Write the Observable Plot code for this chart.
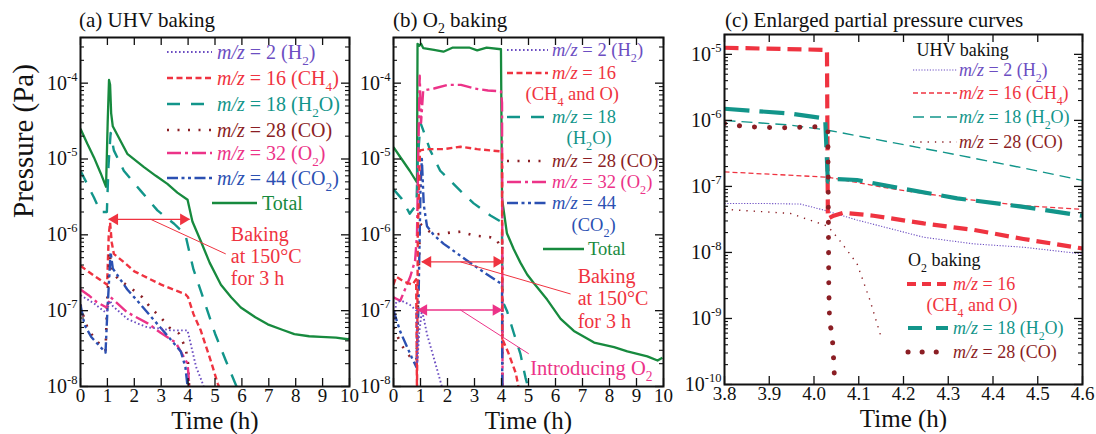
<!DOCTYPE html>
<html><head><meta charset="utf-8">
<script src="https://cdn.jsdelivr.net/npm/d3@7"></script>
<script src="https://cdn.jsdelivr.net/npm/@observablehq/plot@0.6"></script>
<style>
html,body{margin:0;padding:0;background:#fff;}
#wrap{position:relative;width:1096px;height:434px;overflow:hidden;background:#fff;}
#wrap > div{position:absolute;top:0;}
</style></head>
<body><div id="wrap"><div id="pa" style="left:0px"></div><div id="pb" style="left:360px"></div><div id="pc" style="left:680px"></div></div>
<script>
// ---------- Panel (a) UHV baking : [time h, pressure Pa] ----------
const aH2 = [[0,1.6e-7],[0.5,1.25e-7],[0.93,9.5e-8],[0.98,1.0e-7],[1.1,1.35e-7],[1.2,1.15e-7],[1.74,7.8e-8],[2.2,6.6e-8],[2.5,6.0e-8],[3.0,5.8e-8],[3.35,5.5e-8],[3.98,5.5e-8],[4.1,3.6e-8],[4.3,1.8e-8],[4.5,1.2e-8],[4.62,9e-9]];
const aCH4 = [[0,3.9e-7],[0.5,2.9e-7],[0.99,2.2e-7],[1.05,1.0e-6],[1.1,1.45e-6],[1.16,8e-7],[1.24,5.6e-7],[1.6,4.4e-7],[2.0,3.3e-7],[3.0,2.2e-7],[3.9,1.65e-7],[4.0,1.5e-7],[4.2,9e-8],[4.47,5.5e-8],[4.84,2.2e-8],[5.1,1.1e-8],[5.25,8e-9]];
const aH2O = [[0,7e-6],[0.5,3.1e-6],[0.75,2.0e-6],[0.98,2.0e-6],[1.04,8e-6],[1.12,2.2e-5],[1.24,1.3e-5],[1.61,7e-6],[2.24,3.8e-6],[2.86,2.1e-6],[3.48,1.4e-6],[3.9,1e-6],[4.0,7e-7],[4.2,3.5e-7],[4.5,1.7e-7],[5.0,5e-8],[5.4,2.2e-8],[5.8,1e-8],[6.0,7e-9]];
const aCO = [[0,1.2e-7],[0.15,7.5e-8],[0.3,5.5e-8],[0.6,4e-8],[0.93,3e-8],[1.0,1.5e-7],[1.08,6e-7],[1.15,3.5e-7],[1.4,2.6e-7],[1.86,2e-7],[2.3,1.5e-7],[2.6,1.1e-7],[3.0,8e-8],[3.3,6e-8],[3.66,5e-8],[3.91,3.2e-8],[4.0,2e-8],[4.05,8e-9]];
const aO2 = [[0,1.9e-7],[0.3,1.6e-7],[0.6,1.3e-7],[0.97,1.1e-7],[1.05,1.3e-7],[1.12,1.5e-7],[1.74,9.5e-8],[2.5,6.8e-8],[2.98,5.1e-8],[3.54,3.8e-8],[3.98,2e-8],[4.03,1.2e-8],[4.06,8e-9]];
const aCO2 = [[0,1.2e-7],[0.15,6.5e-8],[0.4,4.5e-8],[0.93,2.8e-8],[1.0,1e-7],[1.12,5.9e-7],[1.2,3.6e-7],[1.3,3.2e-7],[1.74,1.9e-7],[2.24,1.2e-7],[2.6,8.5e-8],[3.1,5.3e-8],[3.73,2.9e-8],[3.9,1.8e-8],[3.98,1e-8],[4.0,8e-9]];
const aTotal = [[0,2.5e-5],[0.25,1.6e-5],[0.5,1.05e-5],[0.75,6.5e-6],[0.95,4.3e-6],[1.01,3e-5],[1.06,1.1e-4],[1.1,9.5e-5],[1.14,4e-5],[1.2,2.7e-5],[1.74,1.17e-5],[2.36,7.8e-6],[2.8,6e-6],[3.23,4.7e-6],[3.6,3.6e-6],[3.98,2.9e-6],[4.16,1.5e-6],[4.47,8.3e-7],[4.8,4.3e-7],[5.22,2.2e-7],[5.6,1.5e-7],[5.96,1.1e-7],[6.5,8.2e-8],[6.96,6.6e-8],[7.5,5.6e-8],[7.95,4.9e-8],[8.5,4.6e-8],[8.94,4.5e-8],[9.5,4.4e-8],[9.94,4.2e-8],[10,4.3e-8]];

// ---------- Panel (b) O2 baking ----------
const bH2 = [[0,6e-8],[0.1,1.3e-7],[0.3,1.35e-7],[0.6,1.2e-7],[0.85,1e-7],[0.88,2e-8],[0.95,5e-8],[1.05,1e-7],[1.12,8e-8],[1.24,4.9e-8],[1.49,2.4e-8],[1.73,1.2e-8],[1.86,8e-9]];
const bCH4 = [[0,2.2e-7],[0.1,2.8e-7],[0.4,2.4e-7],[0.7,2.2e-7],[0.84,2.6e-7],[0.87,8e-9],[0.9,1e-6],[0.98,1.3e-5],[1.24,1.35e-5],[1.86,1.35e-5],[2.48,1.45e-5],[3.1,1.35e-5],[3.96,1.26e-5],[4.02,1.2e-5],[4.03,3.3e-8],[4.06,4e-8],[4.25,2.8e-8],[4.53,1.5e-8],[4.65,9e-9]];
const bH2O = [[0,4e-6],[0.3,3e-6],[0.6,1.9e-6],[0.85,2.5e-6],[0.9,1e-5],[1.0,3e-5],[1.1,2.4e-5],[1.36,1.3e-5],[1.73,7e-6],[2.48,3.8e-6],[2.97,2.6e-6],[3.59,1.8e-6],[3.96,1.5e-6],[4.02,1.1e-6],[4.03,1.2e-7],[4.1,1.2e-7],[4.2,1e-7],[4.46,5e-8],[4.7,2.7e-8],[4.89,1.3e-8],[5.05,8e-9]];
const bCO = [[0,6e-8],[0.3,3.5e-8],[0.6,2.5e-8],[0.85,2.2e-8],[0.9,1e-7],[0.98,1.4e-6],[1.2,1.2e-6],[1.49,1e-6],[2.1,1.07e-6],[2.48,1.1e-6],[2.97,9.8e-7],[3.59,9.3e-7],[3.8,9e-7],[3.9,7.6e-7],[4.0,8e-7],[4.03,7e-7],[4.035,7e-10]];
const bO2 = [[0,1.5e-7],[0.25,1.35e-7],[0.62,2.8e-7],[0.8,4.6e-7],[0.87,1e-6],[0.93,2e-5],[0.97,1.25e-4],[1.02,3e-5],[1.1,8e-5],[1.5,8.5e-5],[2.0,9.5e-5],[2.5,9.5e-5],[3.0,8.5e-5],[3.5,8e-5],[3.98,7.8e-5],[4.02,5.5e-5],[4.04,5e-9]];
const bCO2 = [[0,1e-7],[0.25,5.3e-8],[0.68,2.4e-8],[0.85,1.8e-8],[0.92,1e-7],[1.0,4e-6],[1.05,1e-5],[1.12,2.5e-6],[1.24,1.3e-6],[1.49,1e-6],[1.86,7.6e-7],[2.72,4.6e-7],[3.47,3e-7],[3.96,2.3e-7],[4.02,2.2e-7],[4.03,5e-9]];
const bTotal = [[0,1.43e-5],[0.3,1e-5],[0.6,7e-6],[0.87,4.9e-6],[0.89,3.3e-4],[0.95,3.1e-4],[1.02,3.3e-4],[1.1,2.9e-4],[1.5,2.75e-4],[1.85,2.6e-4],[2.2,2.95e-4],[2.8,2.95e-4],[3.1,2.7e-4],[3.45,2.95e-4],[3.98,2.8e-4],[4.02,3e-6],[4.2,1.05e-6],[4.45,6.5e-7],[4.7,4.3e-7],[4.95,3e-7],[5.2,2.3e-7],[5.69,1.4e-7],[6.19,7.8e-8],[6.68,5.4e-8],[7.43,3.8e-8],[8.17,3.3e-8],[8.66,2.9e-8],[9.4,2.5e-8],[9.78,2.2e-8],[9.96,2.4e-8]];

// ---------- Panel (c) Enlarged partial pressure curves ----------
const cUHV_H2 = [[3.8,5.5e-8],[3.9,5.5e-8],[3.97,5.4e-8],[4.021,4.4e-8],[4.096,3.1e-8],[4.17,2.3e-8],[4.245,1.7e-8],[4.356,1.35e-8],[4.468,1.2e-8],[4.6,9.5e-9]];
const cUHV_CH4 = [[3.8,1.66e-7],[4.031,1.38e-7],[4.17,9.3e-8],[4.32,6.6e-8],[4.468,5.1e-8],[4.6,4.5e-8]];
const cUHV_H2O = [[3.8,1e-6],[3.947,8.5e-7],[4.031,7.1e-7],[4.17,4.7e-7],[4.32,3e-7],[4.468,1.9e-7],[4.6,1.23e-7]];
const cUHV_CO = [[3.8,4.5e-8],[3.947,3.9e-8],[4.031,2.5e-8],[4.058,1.5e-8],[4.096,6.8e-9],[4.125,1.9e-9],[4.152,4.7e-10]];
const cO2_CH4 = [[3.8,1.26e-5],[4.029,1.17e-5],[4.031,3.26e-8],[4.044,3.6e-8],[4.066,4e-8],[4.133,3.6e-8],[4.245,2.75e-8],[4.356,2.2e-8],[4.468,1.6e-8],[4.6,1.15e-8]];
const cO2_H2O = [[3.8,1.5e-6],[3.947,1.27e-6],[4.025,1.07e-6],[4.031,1.18e-7],[4.044,1.3e-7],[4.096,1.25e-7],[4.17,1e-7],[4.32,6.6e-8],[4.468,4.9e-8],[4.6,3.6e-8]];
const cO2_CO = [[3.8,9e-7],[3.842,8.1e-7],[3.924,7.7e-7],[4.006,8e-7],[4.031,7.1e-7],[4.033,3e-9],[4.035,7.9e-10],[4.04,6.6e-10],[4.044,2.3e-10],[4.046,1.15e-10]];

// ---------- Ticks ----------
const abXTicks = [0,1,2,3,4,5,6,7,8,9,10];
const cXTicks = [3.8,3.9,4.0,4.1,4.2,4.3,4.4,4.5,4.6];
const abDecades = [1e-8,1e-7,1e-6,1e-5,1e-4];
const cDecades = [1e-10,1e-9,1e-8,1e-7,1e-6,1e-5];

// ---------- Annotations ----------
const aArrows = [{x1:1.05, x2:4.05, y:1.6e-6, c:"red"}];
const aPointers = [{x1:2.61, y1:1.6e-6, x2:5.4, y2:5.6e-7, c:"red"}];
const aNotes = [{x:5.59, y:5.3e-7, text:"Baking\nat 150°C\nfor 3 h", c:"red"}];
const bArrows = [{x1:1.05, x2:4.05, y:4.4e-7, c:"red"},{x1:0.9, x2:4.02, y:1.02e-7, c:"pink"}];
const bPointers = [{x1:2.48, y1:4.4e-7, x2:6.56, y2:1.66e-7, c:"red"},{x1:2.48, y1:1.02e-7, x2:5.01, y2:2.7e-8, c:"pink"}];
const bNotes = [{x:6.82, y:1.47e-7, text:"Baking\nat 150°C\nfor 3 h", c:"red"}];
const bRichNotes = [{x:5.08, y:1.74e-8, text:"Introducing O_{2}", c:"pink"}];

// ---------- Styles ----------
const COL = {purple:"#6c4ec2", red:"#ef3340", teal:"#12958a", dred:"#8b1e24", pink:"#ec3388", blue:"#2b50b2", green:"#178a3e"};
const ST = {
  H2:{c:COL.purple, d:"1.6,2.4", w:1.9},
  CH4:{c:COL.red, d:"6,3.5", w:2.4},
  H2O:{c:COL.teal, d:"13,11", w:2.4},
  CO:{c:COL.dred, d:"2,8.5", w:2.6},
  O2:{c:COL.pink, d:"14,4,3,4", w:2.4},
  CO2:{c:COL.blue, d:"11,3.5,3,3.5,3,3.5", w:2.4},
  Total:{c:COL.green, d:null, w:2.3},
  uH2:{c:COL.purple, d:"1.2,1.6", w:1.1},
  uCH4:{c:COL.red, d:"5,3", w:1.3},
  uH2O:{c:COL.teal, d:"11,6", w:1.4},
  uCO:{c:COL.dred, d:"1.3,6", w:1.4},
  oCH4:{c:COL.red, d:"14,7", w:4.2, ld:"9,6"},
  oH2O:{c:COL.teal, d:"25,10", w:4.2, ld:"14,14"},
  oCO:{c:COL.dred, d:"0.1,15", w:5, cap:"round", ld:"0.1,14"}
};
const FONT = "'Liberation Serif','Times New Roman',serif";
const H = 434;

function rows(arr){ return arr.map(([t,p]) => ({t, p})); }
function minorsFor(decades, top){
  const out = [];
  for (const d of decades) for (let k=2;k<=9;k++){ const v=d*k; if (v<=top*1.0001) out.push(v); }
  return out;
}
function rich(sel, x, y, str, size, color, anchor="start"){
  const t = sel.append("text").attr("x",x).attr("y",y+0.34*size).attr("font-size",size)
    .attr("fill",color).attr("text-anchor",anchor).attr("font-family",FONT);
  let off = 0;
  for (const part of str.split(/(\*[^*]+\*|_\{[^}]+\}|\^\{[^}]+\})/).filter(s=>s)){
    let txt = part, fs = size, target = 0, it = false;
    if (part.startsWith("*")) { txt = part.slice(1,-1); it = true; }
    else if (part.startsWith("_{")) { txt = part.slice(2,-1); fs = size*0.66; target = size*0.3; }
    else if (part.startsWith("^{")) { txt = part.slice(2,-1); fs = size*0.62; target = -size*0.45; }
    const ts = t.append("tspan").attr("font-size",fs).text(txt);
    if (target-off !== 0) ts.attr("dy", target-off);
    if (it) ts.attr("font-style","italic");
    off = target;
  }
  return t;
}
function legendLine(g, x1, x2, y, s){
  g.append("line").attr("x1",x1).attr("x2",x2).attr("y1",y).attr("y2",y)
    .attr("stroke",s.c).attr("stroke-width",s.w)
    .attr("stroke-dasharray", s.ld || s.d).attr("stroke-linecap", s.cap || "butt");
}

function makePanel(cfg){
  const {width, ml, mr, mt, mb, xDomain, yDomain, xTicks, xFmt, decades, series} = cfg;
  const pw = width-ml-mr, ph = H-mt-mb;
  const minors = minorsFor(decades, yDomain[1]);
  const marks = [];
  for (const s of series){
    marks.push(Plot.line(rows(s.data), {x:"t", y:"p", stroke:s.st.c, strokeWidth:s.st.w,
      strokeDasharray:s.st.d || undefined, strokeLinecap:s.st.cap || "butt", strokeLinejoin:"round", clip:true}));
  }
  // inward ticks
  marks.push(Plot.tickY(decades, {y:d=>d, insetRight:pw-8, stroke:"#111", strokeWidth:1.3}));
  marks.push(Plot.tickY(decades, {y:d=>d, insetLeft:pw-8, stroke:"#111", strokeWidth:1.3}));
  marks.push(Plot.tickY(minors, {y:d=>d, insetRight:pw-4, stroke:"#111", strokeWidth:1.1}));
  marks.push(Plot.tickY(minors, {y:d=>d, insetLeft:pw-4, stroke:"#111", strokeWidth:1.1}));
  marks.push(Plot.tickX(xTicks, {x:d=>d, insetTop:ph-8, stroke:"#111", strokeWidth:1.3}));
  marks.push(Plot.tickX(xTicks, {x:d=>d, insetBottom:ph-8, stroke:"#111", strokeWidth:1.3}));
  marks.push(Plot.axisX({ticks:xTicks, tickFormat:xFmt, tickSize:0, tickPadding:2, fontSize:19, label:null, fill:"#111"}));
  marks.push(Plot.axisY({ticks:decades, tickFormat:d=>"10^"+Math.round(Math.log10(d)), tickSize:0, tickPadding:3, fontSize:20, label:null, fill:"#111"}));
  marks.push(Plot.text(["Time (h)"], {frameAnchor:"bottom", lineAnchor:"middle", dy:34, fontSize:25, fill:"#111"}));
  if (cfg.extra) marks.push(...cfg.extra);
  marks.push(Plot.frame({stroke:"#111", strokeWidth:2}));
  const plot = Plot.plot({
    width, height:H, marginLeft:ml, marginRight:mr, marginTop:mt, marginBottom:mb,
    x:{domain:xDomain, axis:null},
    y:{type:"log", domain:yDomain, axis:null},
    style:{fontFamily:FONT, fontSize:"20px", background:"transparent", overflow:"visible", color:"#111"},
    marks
  });
  const svg = d3.select(plot);
  svg.selectAll('g[aria-label="y-axis tick label"] text').each(function(){
    const [b,e] = this.textContent.split("^");
    const t = d3.select(this); t.text(null);
    t.append("tspan").text(b);
    t.append("tspan").attr("font-size",12.5).attr("dy",-9).text(e);
  });
  document.getElementById(cfg.el).appendChild(plot);
  return {plot, svg};
}
function annotationMarks(arrows, pointers, notes){
  const col = d => COL[d.c];
  return [
    Plot.link(pointers, {x1:"x1", y1:"y1", x2:"x2", y2:"y2", stroke:col, strokeWidth:1}),
    Plot.link(arrows, {x1:"x1", x2:"x2", y1:"y", y2:"y", stroke:col, strokeWidth:1.4}),
    Plot.dot(arrows, {x:"x1", y:"y", symbol:"triangle", r:4.3, fill:col, stroke:null, rotate:-90, dx:6}),
    Plot.dot(arrows, {x:"x2", y:"y", symbol:"triangle", r:4.3, fill:col, stroke:null, rotate:90, dx:-6}),
    Plot.text(notes, {x:"x", y:"y", text:"text", fill:col, fontSize:20, textAnchor:"start", lineAnchor:"middle", lineHeight:1.12})
  ];
}

// ----- Panel a -----
const A = makePanel({
  el:"pa", width:360, ml:80, mr:11, mt:37, mb:48, xDomain:[0,10], yDomain:[1e-8,4e-4],
  xTicks:abXTicks, xFmt:d=>String(d), decades:abDecades,
  series:[{data:aTotal, st:ST.Total},{data:aH2O, st:ST.H2O},{data:aCH4, st:ST.CH4},{data:aCO, st:ST.CO},{data:aO2, st:ST.O2},{data:aCO2, st:ST.CO2},{data:aH2, st:ST.H2}],
  extra:[...annotationMarks(aArrows, aPointers, aNotes),
    Plot.text(["Pressure (Pa)"], {frameAnchor:"left", dx:-57, dy:6, rotate:-90, fontSize:29, fill:"#111"})]
});
{
  const g = A.svg.append("g");
  rich(g, 79, 20, "(a) UHV baking", 21, "#111");
  const leg = [["H2","*m/z* = 2 (H_{2})",52],["CH4","*m/z* = 16 (CH_{4})",78],["H2O","*m/z* = 18 (H_{2}O)",104],["CO","*m/z* = 28 (CO)",130],["O2","*m/z* = 32 (O_{2})",153],["CO2","*m/z* = 44 (CO_{2})",178]];
  for (const [k,lab,y] of leg){ legendLine(g,167,212,y,ST[k]); rich(g,217,y,lab,20,ST[k].c); }
  legendLine(g,212,257,203,ST.Total); rich(g,262,203,"Total",20,ST.Total.c);
}

// ----- Panel b -----
const B = makePanel({
  el:"pb", width:320, ml:33, mr:17, mt:37, mb:48, xDomain:[0,10], yDomain:[1e-8,4e-4],
  xTicks:abXTicks, xFmt:d=>String(d), decades:abDecades,
  series:[{data:bTotal, st:ST.Total},{data:bH2O, st:ST.H2O},{data:bCO, st:ST.CO},{data:bO2, st:ST.O2},{data:bCO2, st:ST.CO2},{data:bCH4, st:ST.CH4},{data:bH2, st:ST.H2}],
  extra:annotationMarks(bArrows, bPointers, bNotes)
});
{
  const g = B.svg.append("g");
  rich(g, 33, 20, "(b) O_{2} baking", 21, "#111");
  const xs = B.plot.scale("x"), ys = B.plot.scale("y");
  for (const n of bRichNotes) rich(g, xs.apply(n.x), ys.apply(n.y), n.text, 20.5, COL[n.c]);
  const leg = [["H2","*m/z* = 2 (H_{2})",50],["CH4","*m/z* = 16",73],["H2O","*m/z* = 18",117],["CO","*m/z* = 28 (CO)",161],["O2","*m/z* = 32 (O_{2})",182],["CO2","*m/z* = 44",203]];
  for (const [k,lab,y] of leg){ legendLine(g,147,188,y,ST[k]); rich(g,192,y,lab,18.5,ST[k].c); }
  rich(g,165.5,94,"(CH_{4} and O)",18.5,ST.CH4.c);
  rich(g,206.5,138,"(H_{2}O)",18.5,ST.H2O.c);
  rich(g,211.5,225,"(CO_{2})",18.5,ST.CO2.c);
  legendLine(g,183,224,249,ST.Total); rich(g,228,249,"Total",18.5,ST.Total.c);
}

// ----- Panel c -----
const C = makePanel({
  el:"pc", width:416, ml:44, mr:14, mt:34, mb:50, xDomain:[3.8,4.6], yDomain:[1e-10,2e-5],
  xTicks:cXTicks, xFmt:d3.format(".1f"), decades:cDecades,
  series:[{data:cUHV_H2O, st:ST.uH2O},{data:cUHV_CH4, st:ST.uCH4},{data:cUHV_H2, st:ST.uH2},{data:cUHV_CO, st:ST.uCO},
          {data:cO2_CH4, st:ST.oCH4},{data:cO2_H2O, st:ST.oH2O},{data:cO2_CO, st:ST.oCO}]
});
{
  const g = C.svg.append("g");
  rich(g, 45, 20, "(c) Enlarged partial pressure curves", 21, "#111");
  rich(g, 236.5, 50, "UHV baking", 18, "#111");
  const leg = [["uH2","*m/z* = 2 (H_{2})",70],["uCH4","*m/z* = 16 (CH_{4})",93],["uH2O","*m/z* = 18 (H_{2}O)",117],["uCO","*m/z* = 28 (CO)",142]];
  for (const [k,lab,y] of leg){ legendLine(g,233,277,y,ST[k]); rich(g,279,y,lab,18,ST[k].c); }
  rich(g, 228, 260, "O_{2} baking", 18, "#111");
  legendLine(g,227,267,284,ST.oCH4); rich(g,273,284,"*m/z* = 16",18,ST.oCH4.c);
  rich(g,246.5,305,"(CH_{4} and O)",18,ST.oCH4.c);
  legendLine(g,228,268,328,ST.oH2O); rich(g,273,328,"*m/z* = 18 (H_{2}O)",18,ST.oH2O.c);
  legendLine(g,228,270,352,ST.oCO); rich(g,273,352,"*m/z* = 28 (CO)",18,ST.oCO.c);
}
</script></body></html>
